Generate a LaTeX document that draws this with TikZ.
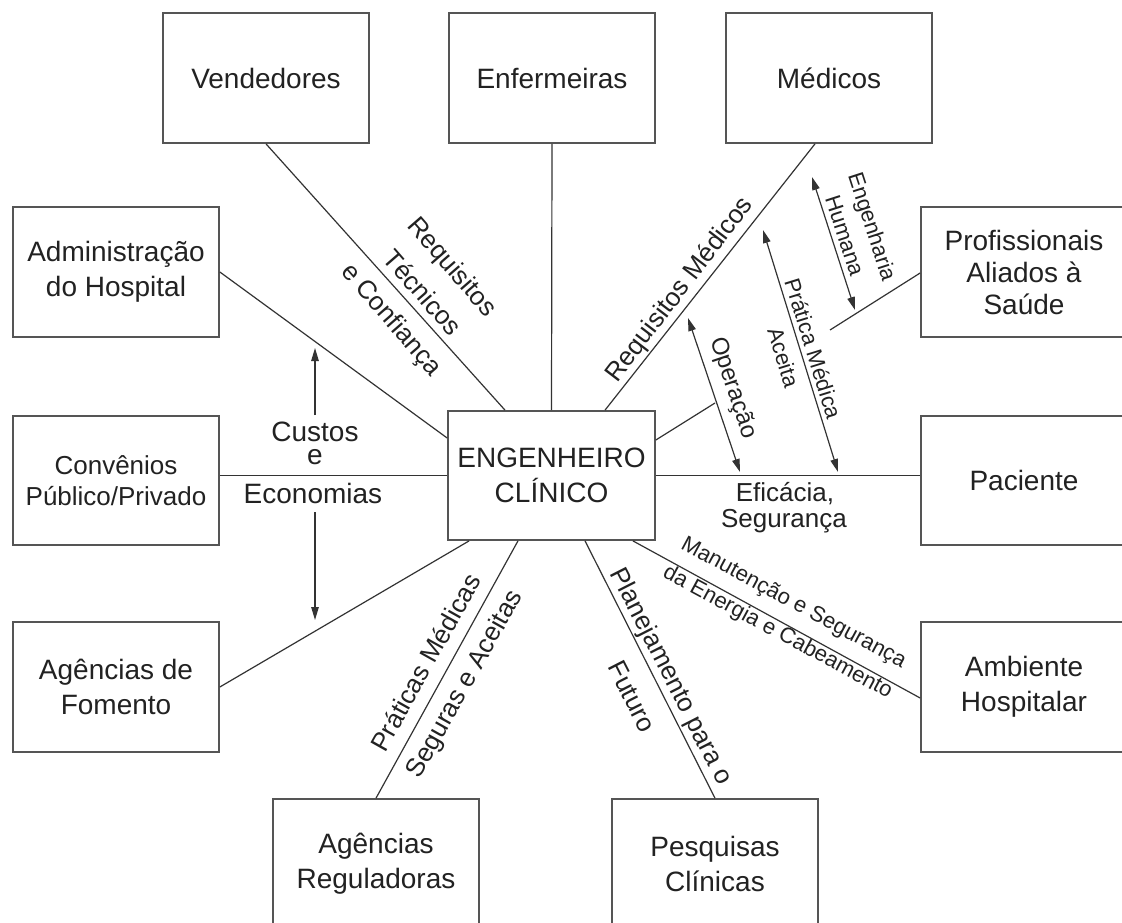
\documentclass[tikz,border=0pt]{standalone}
\usepackage{fontspec}
\setmainfont{Liberation Sans}
\usetikzlibrary{arrows.meta}
\definecolor{boxc}{HTML}{555555}
\definecolor{linec}{HTML}{333333}
\definecolor{textc}{HTML}{222222}
\begin{document}
\begin{tikzpicture}[x=1pt,y=-1pt,
  box/.style={draw=boxc, line width=1.7pt, minimum width=206pt, minimum height=130pt,
    inner sep=0pt, align=center, text=textc, font=\fontsize{28}{35}\selectfont},
  conn/.style={draw=linec, line width=1.2pt},
  dbl/.style={draw=linec, line width=1.2pt, {Triangle[length=13pt,width=7.5pt]}-{Triangle[length=13pt,width=7.5pt]}},
  sgl/.style={draw=linec, line width=1.2pt, -{Triangle[length=13pt,width=7.5pt]}},
  lab/.style={inner sep=0pt, align=center, text=textc, font=\fontsize{26}{30}\selectfont},
  labs/.style={inner sep=0pt, align=center, text=textc, font=\fontsize{22}{26}\selectfont}]
\useasboundingbox (0,0) rectangle (1122,923);
\fill[white] (0,0) rectangle (1122,923);
% boxes
\node[box] (vend) at (266,78) {Vendedores};
\node[box] (enf) at (552,78) {Enfermeiras};
\node[box] (med) at (829,78) {Médicos};
\node[box] (adm) at (116,272) {Administração\\do Hospital};
\node[box, font=\fontsize{28}{32}\selectfont] (prof) at (1024,272) {Profissionais\\Aliados à\\Saúde};
\node[box, minimum height=129pt, font=\fontsize{26}{31}\selectfont] (conv) at (116,480.5) {Convênios\\Público/Privado};
\node[box, minimum width=207pt, minimum height=129pt] (eng) at (551.5,475.5) {ENGENHEIRO\\CLÍNICO};
\node[box, minimum height=129pt] (pac) at (1024,480.5) {Paciente};
\node[box] (fom) at (116,687) {Agências de\\Fomento};
\node[box] (amb) at (1024,687) {Ambiente\\Hospitalar};
\node[box] (reg) at (376,864) {Agências\\Reguladoras};
\node[box] (pes) at (715,864) {Pesquisas\\Clínicas};
% connectors
\draw[conn] (vend.south) -- ([xshift=-46.5pt]eng.north);
\draw[conn] (enf.south) -- (eng.north);
\draw[conn] ([xshift=-14pt]med.south) -- ([xshift=53.5pt]eng.north);
\draw[conn] (adm.east) -- ([yshift=37.5pt]eng.west);
\draw[conn] (eng.west) -- (eng.west -| conv.east);
\draw[conn] (fom.east) -- ([xshift=22pt]eng.south west);
\draw[conn] (reg.north) -- ([xshift=-33.5pt]eng.south);
\draw[conn] (pes.north) -- ([xshift=33.5pt]eng.south);
\draw[conn] ([yshift=-11pt]amb.west) -- ([xshift=-23pt]eng.south east);
\draw[conn] (eng.east) -- (eng.east -| pac.west);
\coordinate (profend) at (830,330);
\draw[conn] ([yshift=-1pt]prof.west) -- (profend);
\coordinate (opend) at (715,403);
\draw[conn] ([yshift=35.5pt]eng.east) -- (opend);
% arrows
\coordinate (opa) at (688,318); \coordinate (opb) at (740,472);
\draw[dbl] (opa) -- (opb);
\coordinate (pma) at (763,230); \coordinate (pmb) at (838,472);
\draw[dbl] (pma) -- (pmb);
\coordinate (eha) at (812,177); \coordinate (ehb) at (855,310);
\draw[dbl] (eha) -- (ehb);
\coordinate (cua) at (315,415); \coordinate (cub) at (315,348);
\draw[sgl] (cua) -- (cub);
\coordinate (cuc) at (315,512); \coordinate (cud) at (315,620);
\draw[sgl] (cuc) -- (cud);
% labels
\node[lab, font=\fontsize{26}{40}\selectfont, rotate=-49] (l1) at (421,294) {Requisitos\\Técnicos\\e Confiança};
\node[lab, rotate=52.6] (l4) at (680,290) {Requisitos Médicos};
\node[lab, font=\fontsize{24}{28}\selectfont, rotate=-71.3] (l5) at (733,388) {Operação};
\node[labs, font=\fontsize{22}{31}\selectfont, rotate=-72.8] (l6) at (798.5,353) {Prática Médica\\Aceita};
\node[labs, font=\fontsize{22}{29}\selectfont, rotate=-72] (l8) at (859,231) {Engenharia\\Humana};
\node[lab] (l10) at (785,494) {Eficácia,};
\node[lab] (l11) at (784,521) {Segurança};
\node[lab, font=\fontsize{28}{30}\selectfont] (l12) at (315,432) {Custos};
\node[lab, font=\fontsize{28}{30}\selectfont] (l13) at (315,457) {e};
\node[lab, font=\fontsize{28}{30}\selectfont] (l14) at (313,493) {Economias};
\node[labs, font=\fontsize{22}{33.5}\selectfont, rotate=-28.3] (l15) at (785.5,618) {Manutenção e Segurança\\da Energia e Cabeamento};
\node[lab, font=\fontsize{26}{45}\selectfont, rotate=-63] (l17) at (652.5,686) {Planejamento para o\\Futuro};
\node[lab, font=\fontsize{26}{43}\selectfont, rotate=60.7] (l19) at (446.5,674) {Práticas Médicas\\Seguras e Aceitas};
\end{tikzpicture}
\end{document}
